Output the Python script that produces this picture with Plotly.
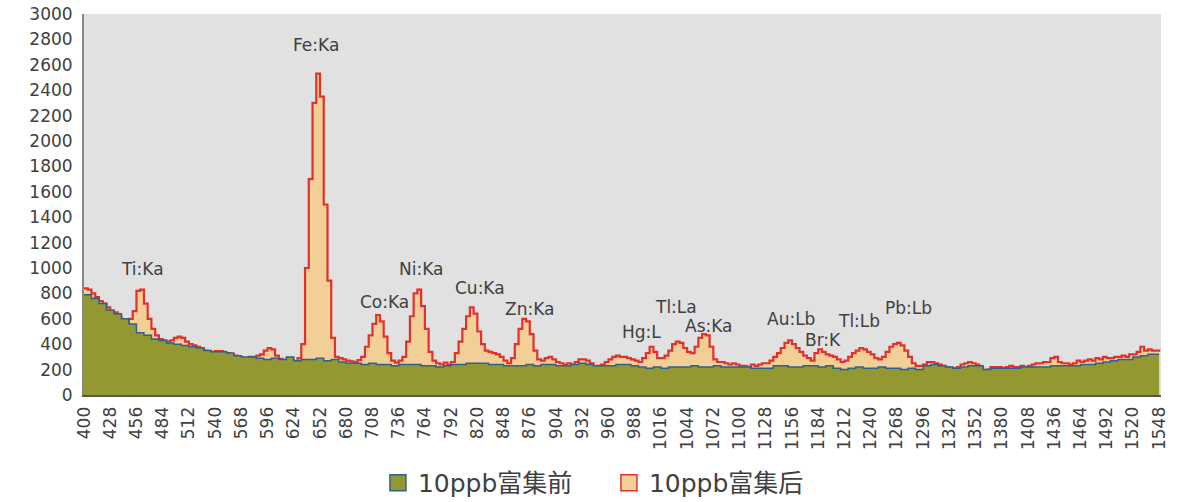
import plotly.graph_objects as go

# Channel positions
ch_after = list(range(400, 1549, 4))
ch_before = list(range(400, 1545, 8)) + [1548]

# 10ppb after enrichment (counts), step 4 channels
after_vals = [
    840, 830, 800, 770, 740, 720, 690, 660, 650, 620,
    590, 570, 600, 660, 820, 830, 720, 600, 520, 470,
    440, 430, 420, 430, 450, 460, 450, 420, 400, 390,
    380, 370, 350, 340, 340, 345, 345, 340, 330, 320,
    310, 300, 290, 290, 300, 300, 310, 320, 350, 370,
    360, 310, 285, 275, 270, 275, 265, 290, 400, 1000,
    1700, 2300, 2530, 2350, 1500, 900, 450, 300, 290, 280,
    270, 265, 260, 275, 300, 380, 470, 560, 630, 580,
    460, 330, 270, 255, 270, 300, 420, 620, 800, 830,
    700, 520, 340, 270, 250, 240, 255, 240, 260, 330,
    420, 520, 620, 690, 640, 500, 400, 350, 340, 330,
    320, 300, 270, 250, 290, 400, 520, 600, 580, 480,
    350, 280, 270, 290, 300, 280, 260, 250, 240, 250,
    240, 260, 280, 280, 270, 250, 220, 230, 240, 260,
    280, 300, 310, 300, 300, 290, 280, 270, 260, 290,
    330, 380, 340, 290, 290, 310, 350, 400, 420, 410,
    370, 340, 330, 380, 450, 480, 470, 380, 280, 260,
    260, 250, 240, 250, 240, 230, 230, 220, 240, 230,
    240, 250, 250, 270, 300, 330, 370, 410, 430, 400,
    370, 340, 310, 290, 270, 330, 360, 340, 320, 310,
    300, 280, 260, 270, 300, 330, 350, 370, 360, 340,
    320, 290, 280, 300, 340, 380, 400, 410, 390, 350,
    300, 250, 230, 230, 240, 260, 260, 250, 240, 230,
    220, 210, 210, 220, 240, 250, 260, 250, 240, 220,
    170, 200, 220, 220, 220, 210, 220, 230, 220, 220,
    230, 220, 230, 240, 250, 250, 260, 260, 290, 300,
    260, 250, 250, 240, 250, 270, 260, 270, 280, 270,
    290, 280, 300, 290, 290, 300, 300, 310, 300, 320,
    320, 340, 380, 350, 360, 350, 350, 340,
]

# 10ppb before enrichment (counts), step 8 channels
before_vals = [
    790, 760, 720, 670, 640, 600, 560, 490, 470, 440,
    430, 410, 400, 390, 380, 370, 350, 340, 340, 330,
    310, 300, 300, 290, 280, 290, 280, 300, 270, 280,
    280, 290, 270, 280, 260, 250, 250, 240, 250, 240,
    240, 230, 240, 240, 240, 230, 230, 220, 230, 240,
    240, 250, 250, 250, 240, 240, 230, 230, 230, 240,
    230, 240, 240, 230, 230, 240, 250, 240, 230, 230,
    230, 240, 240, 230, 220, 210, 220, 210, 220, 220,
    220, 230, 220, 220, 230, 220, 220, 220, 220, 210,
    210, 210, 230, 230, 220, 220, 230, 230, 220, 230,
    210, 200, 210, 220, 210, 210, 220, 210, 210, 200,
    210, 200, 230, 240, 230, 220, 210, 220, 230, 230,
    200, 210, 210, 210, 210, 220, 220, 220, 220, 230,
    230, 230, 230, 240, 240, 250, 260, 270, 280, 280,
    300, 310, 320, 320, 320,
]

peak_labels = ["Ti:Ka", "Fe:Ka", "Co:Ka", "Ni:Ka", "Cu:Ka", "Zn:Ka", "Hg:L",
               "Tl:La", "As:Ka", "Au:Lb", "Br:K", "Tl:Lb", "Pb:Lb"]
peak_ch = [462, 648, 721, 760, 823, 876, 995, 1032, 1067, 1155, 1189, 1228, 1280]
peak_y = [990, 2757, 735, 990, 845, 680, 498, 695, 545, 600, 435, 585, 687]

x_ticks = list(range(400, 1549, 28))
y_ticks = list(range(0, 3001, 200))

FONT = "DejaVu Sans, Noto Sans CJK SC, sans-serif"
OLIVE, BLUE = "#939930", "#2f6190"
ORANGE, RED = "#f3cf98", "#e2312b"

fig = go.Figure()
fig.add_trace(go.Scatter(
    x=ch_after, y=after_vals, name="10ppb富集后", mode="lines",
    line=dict(color=RED, width=2.2, shape="hv"),
    fill="tozeroy", fillcolor=ORANGE, showlegend=False,
))
fig.add_trace(go.Scatter(
    x=ch_before, y=before_vals, name="10ppb富集前", mode="lines",
    line=dict(color=BLUE, width=1.5, shape="hv"),
    fill="tozeroy", fillcolor=OLIVE, showlegend=False,
))
# legend swatches (square)
fig.add_trace(go.Scatter(
    x=[None], y=[None], mode="markers", name="10ppb富集前",
    marker=dict(symbol="square", size=21, color=OLIVE, line=dict(color=BLUE, width=1.5)),
))
fig.add_trace(go.Scatter(
    x=[None], y=[None], mode="markers", name="10ppb富集后",
    marker=dict(symbol="square", size=21, color=ORANGE, line=dict(color=RED, width=1.5)),
))

for t, xc, yc in zip(peak_labels, peak_ch, peak_y):
    fig.add_annotation(x=xc, y=yc, text=t, showarrow=False,
                       font=dict(size=17, color="#404040", family=FONT))

fig.update_layout(
    width=1194, height=502,
    margin=dict(l=84, r=33, t=14, b=107, autoexpand=False),
    paper_bgcolor="white", plot_bgcolor="#e1e1e1",
    font=dict(family=FONT, size=17, color="#404040"),
    showlegend=True,
    legend=dict(orientation="h", xref="container", x=0.51, xanchor="center",
                yref="container", y=0.038, yanchor="middle",
                font=dict(size=25, color="#404040"), itemwidth=30,
                entrywidth=186, bgcolor="rgba(0,0,0,0)"),
)
fig.update_xaxes(range=[400, 1550], tickvals=x_ticks, ticktext=[str(v) for v in x_ticks],
                 tickangle=-90, showgrid=False, zeroline=False, automargin=False,
                 showline=True, linecolor="#555555", linewidth=2,
                 ticks="", ticklabelstandoff=3, ticklabeloverflow="allow",
                 tickfont=dict(size=17, color="#404040"))
fig.update_yaxes(range=[0, 3000], tickvals=y_ticks, showgrid=False, zeroline=False,
                 automargin=False,
                 showline=True, linecolor="#888888", linewidth=2,
                 ticks="", ticklabelstandoff=6, ticklabeloverflow="allow",
                 tickfont=dict(size=17, color="#404040"))

# remove the default page margin so the figure fills the window exactly
fig.write_html("out.html", config={"displayModeBar": False},
               post_script="document.body.style.margin='0';document.body.style.overflow='hidden';")
